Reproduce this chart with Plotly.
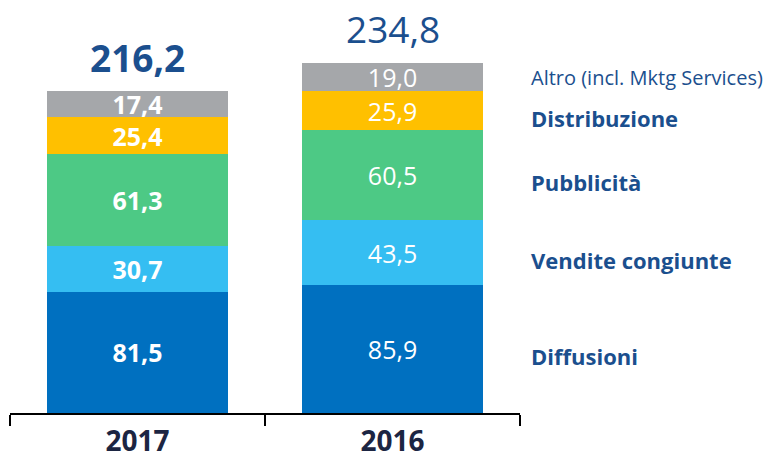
import plotly.graph_objects as go

categories = ["2017", "2016"]
series_names = ["Diffusioni", "Vendite congiunte", "Pubblicità", "Distribuzione", "Altro (incl. Mktg Services)"]
diffusioni = [81.5, 85.9]
vendite = [30.7, 43.5]
pubblicita = [61.3, 60.5]
distribuzione = [25.4, 25.9]
altro = [17.4, 19.0]
totals = [216.2, 234.8]

series_values = [diffusioni, vendite, pubblicita, distribuzione, altro]
colors = ["#0070C0", "#35BEF2", "#4DC985", "#FFC000", "#A5A7AA"]
FONT = "Open Sans"
BLUE = "#1B4F8E"

def fmt(v):
    return f"{v:.1f}".replace(".", ",")

fig = go.Figure()
for name, vals, col in zip(series_names, series_values, colors):
    texts = [f"<b>{fmt(v)}</b>" if i == 0 else fmt(v) for i, v in enumerate(vals)]
    fig.add_trace(go.Bar(
        x=categories, y=vals, name=name, marker=dict(color=col, line=dict(width=0)),
        text=texts, textposition="inside", insidetextanchor="middle", textangle=0,
        textfont=dict(color="white", size=25, family=FONT), width=0.71,
        hoverinfo="skip",
    ))

# totals above the bars
for i, t in enumerate(totals):
    fig.add_annotation(x=i, y=t, xref="x", yref="y", yanchor="bottom", yshift=6 if i == 0 else 7,
                       text=f"<b>{fmt(t)}</b>" if i == 0 else fmt(t), showarrow=False,
                       font=dict(size=37, color=BLUE, family=FONT))

# right side labels, aligned with 2016 segments
cum = 0
for k, (name, vals) in enumerate(zip(series_names, series_values)):
    mid = cum + vals[1] / 2
    cum += vals[1]
    last = k == len(series_names) - 1
    fig.add_annotation(x=1.0176, xref="paper", y=mid, yref="y", xanchor="left", yanchor="middle",
                       yshift=0 if last else -7,
                       text=name if last else f"<b>{name}</b>", showarrow=False,
                       font=dict(size=20 if last else 22, color=BLUE, family=FONT))

fig.update_layout(
    barmode="stack", width=780, height=458, showlegend=False,
    margin=dict(l=2, r=268, t=0, b=53), plot_bgcolor="white", paper_bgcolor="white",
    bargap=0.29, uniformtext=dict(minsize=25, mode="show"),
    font=dict(family=FONT),
)
fig.update_xaxes(type="category", range=[-0.5, 1.5], showline=True, linecolor="black", linewidth=2,
                 ticks="outside", tickson="boundaries", ticklen=11, tickwidth=2, tickcolor="black",
                 tickfont=dict(size=28, color="#1C2542", family=FONT), showgrid=False,
                 ticklabelstandoff=2,
                 tickprefix="<b>", ticksuffix="</b>")
fig.update_yaxes(range=[0, 271.8], visible=False)

fig.write_html("out.html")
